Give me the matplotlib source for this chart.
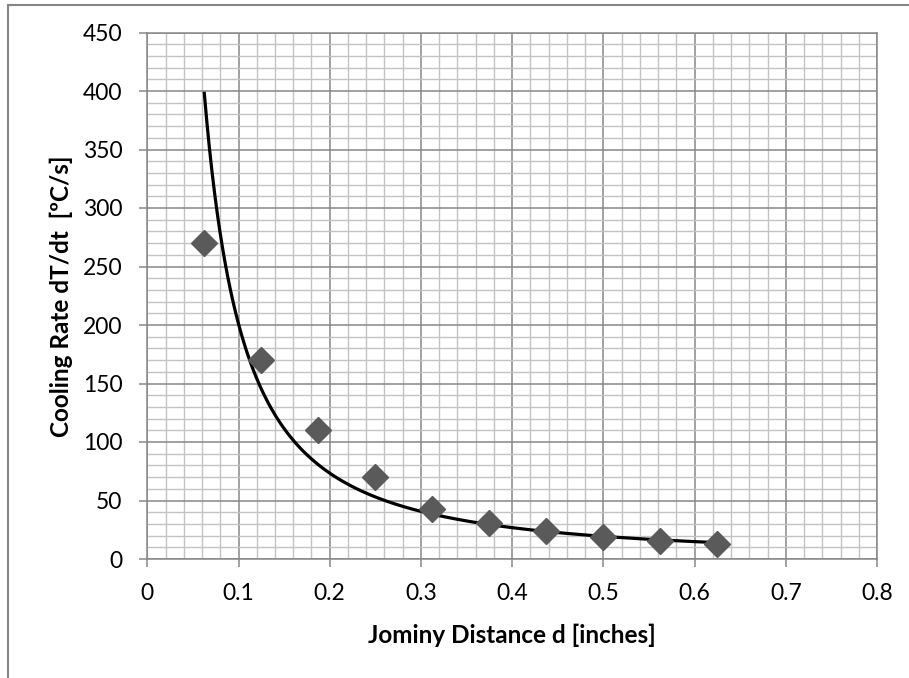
import numpy as np
import matplotlib
matplotlib.use("Agg")
import matplotlib.pyplot as plt
from matplotlib.ticker import MultipleLocator
from matplotlib.lines import Line2D

# Data
distance_in = [0.0625, 0.125, 0.1875, 0.25, 0.3125, 0.375, 0.4375, 0.5, 0.5625, 0.625]
cooling_rate = [270, 170, 110, 70, 43, 31, 24, 19, 15, 13]

# Power trend line y = a * x^b (coefficients)
trend_a = 7.07
trend_b = -1.4537
trend_range = (0.0625, 0.625)

x_ticks = [0, 0.1, 0.2, 0.3, 0.4, 0.5, 0.6, 0.7, 0.8]
y_ticks = [0, 50, 100, 150, 200, 250, 300, 350, 400, 450]

plt.rcParams['font.family'] = ['Lato', 'DejaVu Sans']

W, H = 909, 678
fig = plt.figure(figsize=(W / 100, H / 100), dpi=100)
x0, x1, y0, y1 = 147.3, 877.0, 559.0, 32.5
ax = fig.add_axes([x0 / W, 1 - y0 / H, (x1 - x0) / W, (y0 - y1) / H])

major_c = '#878787'
minor_c = '#c3c3c3'

ax.set_xlim(x_ticks[0], x_ticks[-1])
ax.set_ylim(y_ticks[0], y_ticks[-1])
ax.set_xticks(x_ticks)
ax.set_yticks(y_ticks)
ax.set_xticklabels([f"{v:g}" for v in x_ticks])
ax.set_yticklabels([f"{v:g}" for v in y_ticks])
ax.xaxis.set_minor_locator(MultipleLocator(0.02))
ax.yaxis.set_minor_locator(MultipleLocator(10))

ax.grid(which='minor', color=minor_c, linewidth=1.0, zorder=0)
ax.grid(which='major', color=major_c, linewidth=1.1, zorder=0)
ax.set_axisbelow(True)

for s in ax.spines.values():
    s.set_color(major_c)
    s.set_linewidth(1.1)

ax.tick_params(which='major', direction='out', length=6, width=1.1, color=major_c,
               labelsize=16.5, labelcolor='black')
ax.tick_params(axis='y', which='major', pad=12)
ax.tick_params(axis='x', which='major', pad=11)
ax.tick_params(which='minor', length=0)

xs = np.linspace(trend_range[0], trend_range[1], 400)
ax.plot(xs, trend_a * xs ** trend_b, color='black', linewidth=2.3, zorder=3)

ax.plot(distance_in, cooling_rate, linestyle='none', marker='D', markersize=13.5,
        markerfacecolor='#5a5a5a', markeredgecolor='#5a5a5a', zorder=4)

ax.set_xlabel('Jominy Distance d [inches]', fontsize=17.5, fontweight='bold')
ax.xaxis.set_label_coords(0.5, (y0 - 635) / (y0 - y1))
ax.xaxis.label.set_va('center')

fig.text(61 / W, 1 - 296 / H, 'Cooling Rate dT/dt  [ºC/s]', fontsize=17.5,
         fontweight='bold', rotation=90, ha='center', va='center')

# Chart-area border (partially cropped, as in the reference)
fig.add_artist(Line2D([8 / W, 8 / W], [0, 1 - 5 / H], transform=fig.transFigure,
                      color='#868686', linewidth=1.5))
fig.add_artist(Line2D([8 / W, 1], [1 - 5 / H, 1 - 5 / H], transform=fig.transFigure,
                      color='#868686', linewidth=1.5))

fig.savefig('out.png', dpi=100)
